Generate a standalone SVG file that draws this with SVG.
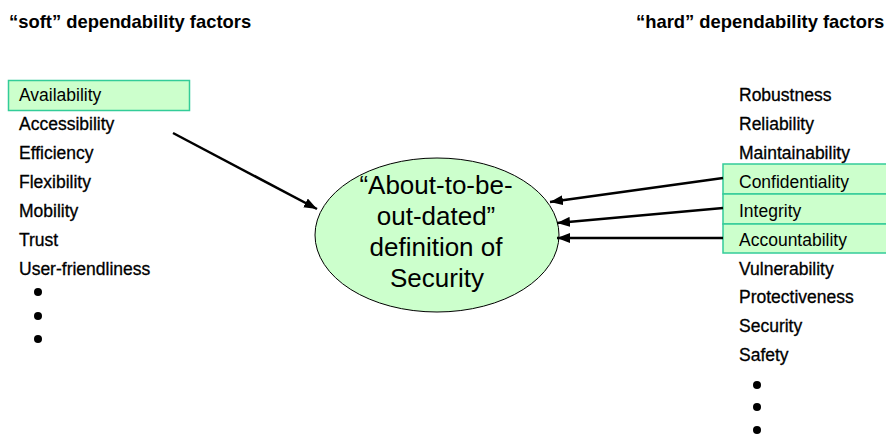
<svg xmlns="http://www.w3.org/2000/svg" width="886" height="437" viewBox="0 0 886 437">
<style>
.t{font-family:"Liberation Sans",Arial,sans-serif;font-size:17.5px;fill:#000}
.k{stroke:#000;stroke-width:0.3}
.h{font-family:"Liberation Sans",Arial,sans-serif;font-size:18.4px;font-weight:bold;fill:#000}
.e{font-family:"Liberation Sans",Arial,sans-serif;font-size:26px;fill:#000;text-anchor:middle}
.box{fill:#ccffcc;stroke:#33cc99;stroke-width:1.5}
.c{stroke:#000;stroke-width:2.5;fill:none;marker-end:url(#ah)}
</style>
<defs>
<marker id="ah" markerUnits="userSpaceOnUse" markerWidth="14" markerHeight="10" refX="13" refY="5" orient="auto">
<path d="M0,0 L13,5 L0,10 Z" fill="#000"/>
</marker>
</defs>
<rect width="886" height="437" fill="#fff"/>
<g id="titles">
<text class="h" x="9" y="28">“soft” dependability factors</text>
<text class="h" x="636" y="28">“hard” dependability factors</text>
</g>
<g id="soft">
<rect class="box" x="8.5" y="80.5" width="181" height="30"/>
<text class="t" x="19" y="101">Availability</text>
<text class="t k" x="19" y="130">Accessibility</text>
<text class="t k" x="19" y="159">Efficiency</text>
<text class="t k" x="19" y="188">Flexibility</text>
<text class="t k" x="19" y="217">Mobility</text>
<text class="t k" x="19" y="246">Trust</text>
<text class="t k" x="19" y="275">User-friendliness</text>
<circle cx="38" cy="292" r="4"/>
<circle cx="38" cy="316" r="4"/>
<circle cx="38" cy="339" r="4"/>
</g>
<g id="hard">
<rect class="box" x="723" y="164" width="170" height="30"/>
<rect class="box" x="723" y="194" width="170" height="30"/>
<rect class="box" x="723" y="224" width="170" height="29"/>
<text class="t k" x="739" y="101">Robustness</text>
<text class="t k" x="739" y="130">Reliability</text>
<text class="t k" x="739" y="159">Maintainability</text>
<text class="t" x="739" y="188">Confidentiality</text>
<text class="t" x="739" y="217">Integrity</text>
<text class="t" x="739" y="246">Accountability</text>
<text class="t k" x="739" y="275">Vulnerability</text>
<text class="t k" x="739" y="303">Protectiveness</text>
<text class="t k" x="739" y="332">Security</text>
<text class="t k" x="739" y="361">Safety</text>
<circle cx="757" cy="385" r="4"/>
<circle cx="757" cy="407" r="4"/>
<circle cx="757" cy="430" r="4"/>
</g>
<g id="security">
<ellipse cx="437" cy="235" rx="122" ry="77" fill="#ccffcc" stroke="#000" stroke-width="1"/>
<text class="e" x="436" y="194">“About-to-be-</text>
<text class="e" x="436" y="225">out-dated”</text>
<text class="e" x="436" y="256">definition of</text>
<text class="e" x="437" y="287">Security</text>
</g>
<g id="connectors">
<line class="c" x1="173" y1="133" x2="317" y2="209"/>
<line class="c" x1="723" y1="178" x2="550" y2="202"/>
<line class="c" x1="723" y1="208" x2="557" y2="223"/>
<line class="c" x1="723" y1="238" x2="557" y2="238"/>
</g>
</svg>
